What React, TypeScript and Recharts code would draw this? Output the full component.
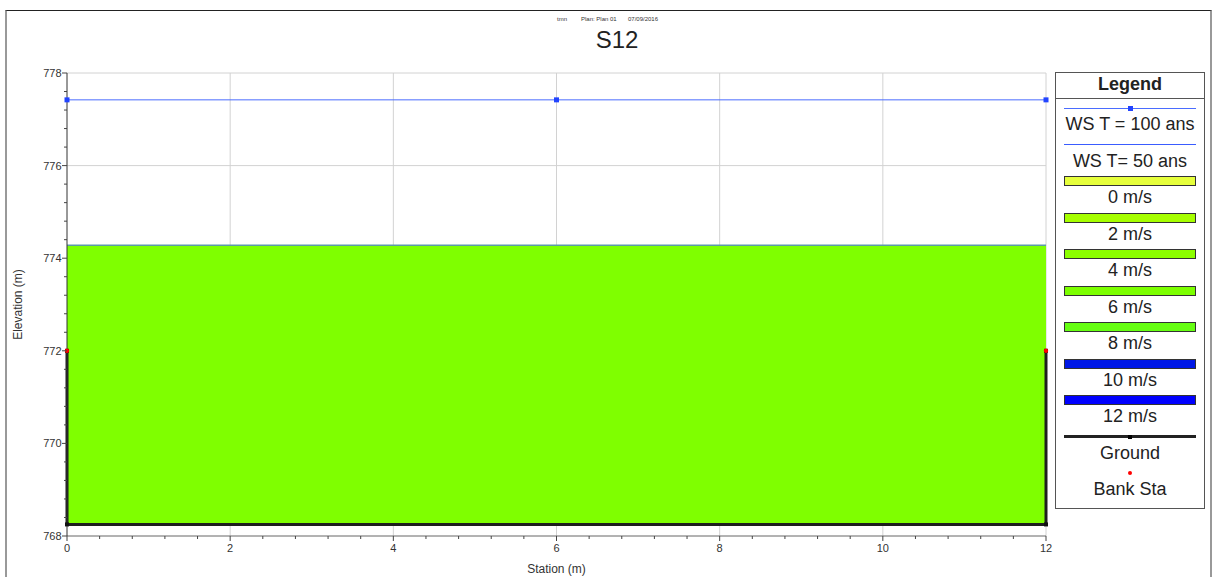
import React from 'react'
import { ComposedChart, Line, Area, XAxis, YAxis, CartesianGrid, Label } from 'recharts'

// Water surfaces, ground profile and bank stations
const wsT100 = [
  { x: 0, y: 777.42 },
  { x: 6, y: 777.42 },
  { x: 12, y: 777.42 },
]
const wsT50 = [
  { x: 0, y: 774.28 },
  { x: 12, y: 774.28 },
]
const velocityBand = [
  { x: 0, band: [768.25, 774.28] },
  { x: 12, band: [768.25, 774.28] },
]
const ground = [
  { x: 0, y: 772 },
  { x: 0, y: 768.25 },
  { x: 12, y: 768.25 },
  { x: 12, y: 772 },
]
const bankSta = [
  { x: 0, y: 772 },
  { x: 12, y: 772 },
]

const xTicks = [
  0, 0.4, 0.8, 1.2, 1.6, 2, 2.4, 2.8, 3.2, 3.6, 4, 4.4, 4.8, 5.2, 5.6, 6, 6.4, 6.8, 7.2, 7.6, 8, 8.4, 8.8,
  9.2, 9.6, 10, 10.4, 10.8, 11.2, 11.6, 12,
]
const yTicks = [
  768, 768.4, 768.8, 769.2, 769.6, 770, 770.4, 770.8, 771.2, 771.6, 772, 772.4, 772.8, 773.2, 773.6, 774,
  774.4, 774.8, 775.2, 775.6, 776, 776.4, 776.8, 777.2, 777.6, 778,
]
const xGrid = [2, 4, 6, 8, 10, 12]
const yGrid = [770, 772, 774, 776, 778]

const legendItems = [
  { label: 'WS T = 100 ans', kind: 'line', color: '#4a6cff' },
  { label: 'WS T= 50 ans', kind: 'thin', color: '#3a5cff' },
  { label: '0 m/s', kind: 'box', color: '#e6ff3c' },
  { label: '2 m/s', kind: 'box', color: '#a6ff00' },
  { label: '4 m/s', kind: 'box', color: '#8cff00' },
  { label: '6 m/s', kind: 'box', color: '#7cff00' },
  { label: '8 m/s', kind: 'box', color: '#66ff12' },
  { label: '10 m/s', kind: 'box', color: '#0018e6' },
  { label: '12 m/s', kind: 'box', color: '#0000ff' },
  { label: 'Ground', kind: 'ground', color: '#222' },
  { label: 'Bank Sta', kind: 'dot', color: '#ff0000' },
]

const FONT = '"Liberation Sans", Arial, sans-serif'

const isMajor = (v: number) => Math.abs(v / 2 - Math.round(v / 2)) < 1e-6

function XTick(props: any) {
  const { x, y, payload } = props
  const major = isMajor(payload.value)
  return (
    <g>
      <line x1={x} x2={x} y1={y} y2={y + (major ? 5 : 3)} stroke="#444" />
      {major && (
        <text x={x} y={y + 16} textAnchor="middle" fontSize={11} fill="#333" fontFamily={FONT}>
          {Math.round(payload.value)}
        </text>
      )}
    </g>
  )
}

function YTick(props: any) {
  const { x, y, payload } = props
  const major = isMajor(payload.value)
  return (
    <g>
      <line x1={x - (major ? 5 : 3)} x2={x} y1={y} y2={y} stroke="#444" />
      {major && (
        <text x={x - 5.5} y={y + 4} textAnchor="end" fontSize={11} fill="#333" fontFamily={FONT}>
          {Math.round(payload.value)}
        </text>
      )}
    </g>
  )
}

function LegendBox() {
  return (
    <div
      style={{
        position: 'absolute',
        left: 1055,
        top: 72,
        width: 150,
        height: 437,
        boxSizing: 'border-box',
        border: '1px solid #555',
        background: 'white',
        fontFamily: FONT,
        color: '#222',
      }}
    >
      <div style={{ position: 'absolute', top: 1, left: 0, width: '100%', textAlign: 'center', fontWeight: 'bold', fontSize: 18, lineHeight: '20px' }}>
        Legend
      </div>
      <div style={{ position: 'absolute', top: 25, left: 0, width: '100%', height: 1, background: '#555' }} />
      {legendItems.map((item, i) => {
        const markY = 35 + i * 36.5
        let mark = null
        if (item.kind === 'line' || item.kind === 'thin') {
          mark = (
            <>
              <div style={{ position: 'absolute', left: 8, width: 132, top: markY - 0.5, height: 1, background: item.color }} />
              {item.kind === 'line' && (
                <div style={{ position: 'absolute', left: 71.5, top: markY - 2.5, width: 5, height: 5, background: '#2244ff' }} />
              )}
            </>
          )
        } else if (item.kind === 'box') {
          mark = (
            <div
              style={{
                position: 'absolute',
                left: 8,
                width: 132,
                top: markY - 5,
                height: 10,
                boxSizing: 'border-box',
                border: '1px solid #333',
                background: item.color,
              }}
            />
          )
        } else if (item.kind === 'ground') {
          mark = (
            <>
              <div style={{ position: 'absolute', left: 8, width: 132, top: markY - 1.5, height: 3, background: item.color }} />
              <div style={{ position: 'absolute', left: 72, top: markY - 2, width: 4, height: 4, background: '#000' }} />
            </>
          )
        } else {
          mark = (
            <div style={{ position: 'absolute', left: 72, top: markY - 2, width: 4, height: 4, borderRadius: 2, background: item.color }} />
          )
        }
        return (
          <React.Fragment key={item.label}>
            {mark}
            <div
              style={{
                position: 'absolute',
                top: markY + 16 - 10,
                left: 0,
                width: '100%',
                textAlign: 'center',
                fontSize: 18,
                lineHeight: '20px',
              }}
            >
              {item.label}
            </div>
          </React.Fragment>
        )
      })}
    </div>
  )
}

const gridX = ({ xAxis, offset }: any) =>
  xGrid.map((v) => (xAxis && typeof xAxis.scale === 'function' ? xAxis.scale(v) : offset.left + (v / 12) * offset.width))
const gridY = ({ yAxis, offset }: any) =>
  yGrid.map((v) =>
    yAxis && typeof yAxis.scale === 'function' ? yAxis.scale(v) : offset.top + ((778 - v) / 10) * offset.height,
  )

export default function App() {
  return (
    <div style={{ position: 'absolute', left: 0, top: 0, width: 1214, height: 577, overflow: 'hidden', background: 'white' }}>
      <div
        style={{
          position: 'absolute',
          left: 5,
          top: 10,
          width: 1207,
          height: 620,
          boxSizing: 'border-box',
          borderTop: '1px solid #222',
          borderLeft: '2px solid #999',
          borderRight: '2px solid #999',
        }}
      />
      <div style={{ position: 'absolute', top: 16, left: 557, fontFamily: FONT, fontSize: 6, color: '#333', whiteSpace: 'pre' }}>
        tmn
      </div>
      <div style={{ position: 'absolute', top: 16, left: 581, fontFamily: FONT, fontSize: 6, color: '#333', whiteSpace: 'pre' }}>
        Plan: Plan 01
      </div>
      <div style={{ position: 'absolute', top: 16, left: 628, fontFamily: FONT, fontSize: 6, color: '#333', whiteSpace: 'pre' }}>
        07/09/2016
      </div>
      <div style={{ position: 'absolute', top: 26, left: 517, width: 200, textAlign: 'center', fontFamily: FONT, fontSize: 24, lineHeight: '28px', color: '#222' }}>
        S12
      </div>
      <div style={{ position: 'absolute', left: 0, top: 0 }}>
        <ComposedChart width={1056} height={577} margin={{ top: 73, right: 10, bottom: 0, left: 7 }}>
          <CartesianGrid
            stroke="#d2d2d2"
            verticalCoordinatesGenerator={gridX}
            horizontalCoordinatesGenerator={gridY}
          />
          <XAxis
            type="number"
            dataKey="x"
            domain={[0, 12]}
            ticks={xTicks}
            interval={0}
            height={41}
            tickSize={0}
            tickMargin={0}
            tick={<XTick />}
            stroke="#666"
          >
            <Label value="Station (m)" position="insideBottom" offset={4} style={{ fontSize: 12, fill: '#333', fontFamily: FONT }} />
          </XAxis>
          <YAxis
            type="number"
            domain={[768, 778]}
            ticks={yTicks}
            interval={0}
            width={60}
            tickSize={0}
            tickMargin={0}
            tick={<YTick />}
            stroke="#333"
          >
            <Label
              value="Elevation (m)"
              angle={-90}
              position="insideLeft"
              offset={11}
              style={{ fontSize: 12, fill: '#333', fontFamily: FONT, textAnchor: 'middle' }}
            />
          </YAxis>
          <Area
            data={velocityBand}
            dataKey="band"
            type="linear"
            fill="#7fff00"
            fillOpacity={1}
            stroke="none"
            isAnimationActive={false}
          />
          <Line data={wsT50} dataKey="y" type="linear" stroke="#5c9aa8" strokeWidth={1.5} dot={false} isAnimationActive={false} />
          <Line
            data={wsT100}
            dataKey="y"
            type="linear"
            stroke="#4a6cff"
            strokeWidth={1}
            isAnimationActive={false}
            dot={(p: any) => <rect key={`ws-${p.index}`} x={p.cx - 2.5} y={p.cy - 2.5} width={5} height={5} fill="#2244ff" />}
          />
          <Line
            data={ground}
            dataKey="y"
            type="linear"
            stroke="#1e1e1e"
            strokeWidth={3}
            isAnimationActive={false}
            dot={(p: any) => <rect key={`g-${p.index}`} x={p.cx - 2} y={p.cy - 2} width={4} height={4} fill="#111" />}
          />
          <Line
            data={bankSta}
            dataKey="y"
            type="linear"
            stroke="none"
            isAnimationActive={false}
            dot={(p: any) => <circle key={`b-${p.index}`} cx={p.cx} cy={p.cy} r={2.2} fill="#ff0000" />}
          />
        </ComposedChart>
      </div>
      <LegendBox />
    </div>
  )
}
